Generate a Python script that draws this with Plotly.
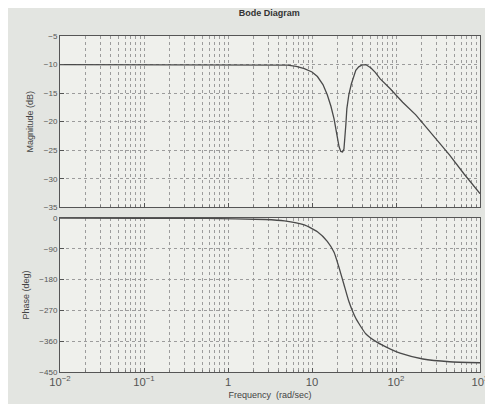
import plotly.graph_objects as go

# Magnitude curve
mag_freq = [0.01, 0.1, 1.0, 3.0, 5.1, 6.5, 8.1, 10.0, 11.6, 13.5, 15.2, 16.8, 18.3,
            19.8, 21.0, 22.0, 23.1, 24.0, 24.7, 25.3, 26.0, 27.5, 29.4, 31.2, 33.2,
            36.0, 39.0, 43.6, 50.4, 57.0, 64.9, 84.8, 120.0, 172.0, 260.0, 433.0,
            650.0, 1000.0]
mag_db = [-10.0, -10.0, -10.0, -10.0, -10.1, -10.3, -10.7, -11.3, -12.1, -13.5, -15.3,
          -17.3, -19.5, -22.3, -24.4, -25.2, -25.3, -24.8, -23.0, -20.5, -17.7, -15.2,
          -13.4, -12.0, -11.0, -10.4, -10.1, -10.0, -10.6, -11.4, -12.5, -14.2, -16.6,
          -18.8, -22.0, -25.8, -29.2, -32.6]

# Phase curve
ph_freq = [0.01, 0.1, 0.55, 2.76, 4.7, 8.1, 11.6, 15.2, 18.3, 21.0, 24.0, 27.5, 33.2,
           43.6, 58.6, 85.9, 112.0, 209.0, 433.0, 1000.0]
ph_deg = [0.0, -0.5, -1.0, -4.0, -8.0, -20.0, -40.0, -68.0, -100.0, -145.0, -194.0,
          -244.0, -293.0, -338.0, -362.0, -383.0, -395.0, -412.0, -420.0, -423.0]

mag_ticks = [-35, -30, -25, -20, -15, -10, -5]
ph_ticks = [0, -90, -180, -270, -360, -450]

FONT = "Liberation Sans"
LINE = "#4a4a4a"
GRID = "#9c9c9c"

fig = go.Figure()
fig.add_trace(go.Scatter(x=mag_freq, y=mag_db, mode="lines", xaxis="x", yaxis="y",
                         line=dict(color=LINE, width=1.3, shape="linear"),
                         showlegend=False))
fig.add_trace(go.Scatter(x=ph_freq, y=ph_deg, mode="lines", xaxis="x2", yaxis="y2",
                         line=dict(color=LINE, width=1.3, shape="spline", smoothing=0.5),
                         showlegend=False))

xcommon = dict(type="log", range=[-2, 3], dtick=1, showline=True, mirror=True,
               linecolor="#555", linewidth=1, ticks="inside", ticklen=4, tickcolor="#555",
               showgrid=True, gridcolor=GRID, griddash="dot", gridwidth=1,
               exponentformat="power", zeroline=False,
               minor=dict(dtick="D1", showgrid=True, gridcolor=GRID, griddash="dot",
                          ticks="inside", ticklen=2, tickcolor="#777"))
ycommon = dict(showline=True, mirror=True, linecolor="#555", linewidth=1,
               ticks="inside", ticklen=4, tickcolor="#555", showgrid=True,
               gridcolor=GRID, griddash="dot", gridwidth=1, zeroline=False,
               tickfont=dict(size=8, color="#555"))

fig.update_layout(
    width=493, height=404,
    margin=dict(l=52, r=15, t=28, b=40),
    paper_bgcolor="#e3e5e1",
    plot_bgcolor="#eff0ec",
    font=dict(family=FONT, size=9, color="#444"),
    title=dict(text="<b>Bode Diagram</b>", x=0.53, xanchor="center", y=0.997,
               yanchor="top", font=dict(size=9, color="#333")),
    xaxis=dict(**xcommon, domain=[0, 1], anchor="y", showticklabels=False),
    yaxis=dict(**ycommon, domain=[0.49, 1], range=[-35, -5], tickvals=mag_ticks,
               title=dict(text="Magnitude (dB)", font=dict(size=9, color="#444"), standoff=8)),
    xaxis2=dict(**xcommon, domain=[0, 1], anchor="y2", matches="x",
                tickfont=dict(size=9, color="#555"),
                title=dict(text="Frequency  (rad/sec)", font=dict(size=9, color="#444"),
                           standoff=4)),
    yaxis2=dict(**ycommon, domain=[0, 0.458], range=[-450, 0], tickvals=ph_ticks,
                title=dict(text="Phase (deg)", font=dict(size=9, color="#444"), standoff=8)),
)

fig.write_html("out.html")
